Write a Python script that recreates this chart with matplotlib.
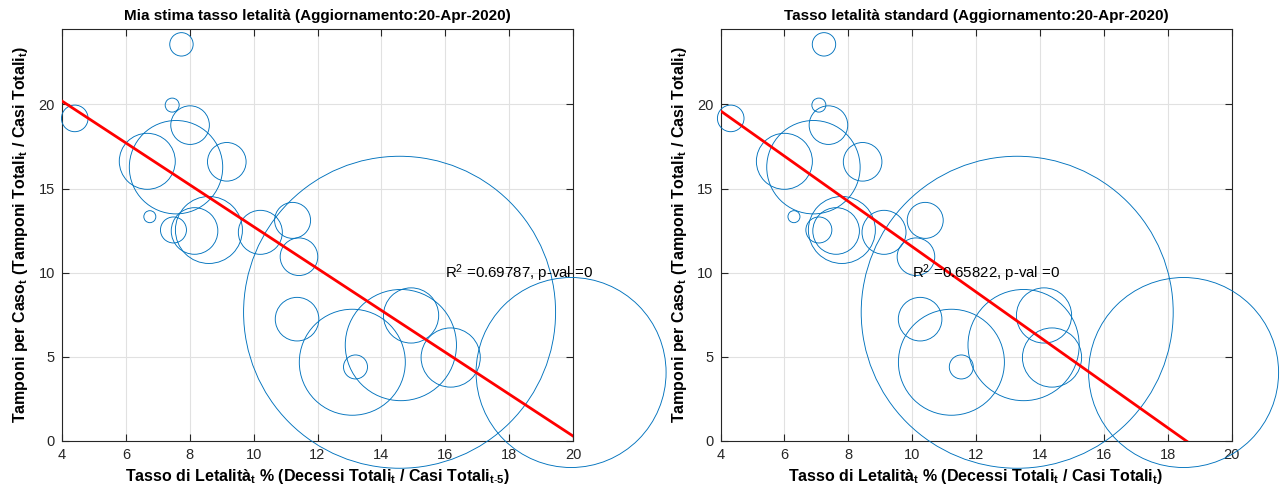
import matplotlib
matplotlib.use("Agg")
import matplotlib.pyplot as plt
import numpy as np
from matplotlib import font_manager

# ---------------- data ----------------
# y: tamponi per caso (shared by both panels)
tamponi_per_caso = [23.57, 19.17, 19.96, 18.77, 16.27, 16.62, 16.59, 13.33, 12.54, 12.48,
                    12.54, 12.40, 13.11, 10.95, 7.24, 4.68, 4.40, 5.70, 7.46, 4.96, 4.07, 7.65]
# x: my estimate of lethality (deaths_t / cases_{t-5})
letalita_mia = [7.74, 4.40, 7.45, 8.01, 7.57, 6.67, 9.16, 6.75, 7.49, 8.15,
                8.60, 10.21, 11.22, 11.42, 11.36, 13.09, 13.19, 14.61, 14.93, 16.17, 19.94, 14.57]
# x: standard lethality (deaths_t / cases_t)
letalita_std = [7.24, 4.32, 7.08, 7.38, 6.91, 6.00, 8.45, 6.30, 7.08, 7.62,
                7.80, 9.12, 10.41, 10.12, 10.25, 11.23, 11.54, 13.49, 14.13, 14.38, 18.50, 13.29]
# bubble radius (pixels, proportional to size of region)
raggio_px = [11.7, 13.3, 7.0, 19.3, 46.7, 28.0, 19.3, 6.0, 13.0, 23.3,
             33.5, 22.0, 18.0, 18.8, 21.8, 53.0, 12.0, 55.6, 27.6, 29.6, 95.0, 156.0]

# regression lines (intercept at x=4, slope)
fit_mia = {"x0": 4.0, "y0": 20.2, "slope": -1.244}
fit_std = {"x0": 4.0, "y0": 19.62, "slope": -1.345}
r2_mia, r2_std = "0.69787", "0.65822"

titoli = ["Mia stima tasso letalità (Aggiornamento:20-Apr-2020)",
          "Tasso letalità standard (Aggiornamento:20-Apr-2020)"]
xlabels = [r"Tasso di Letalità$_\mathbf{t}$ % (Decessi Totali$_\mathbf{t}$ / Casi Totali$_\mathbf{t\text{-}5}$)",
           r"Tasso di Letalità$_\mathbf{t}$ % (Decessi Totali$_\mathbf{t}$ / Casi Totali$_\mathbf{t}$)"]
ylabel = r"Tamponi per Caso$_\mathbf{t}$ (Tamponi Totali$_\mathbf{t}$ / Casi Totali$_\mathbf{t}$)"
xticks = [4, 6, 8, 10, 12, 14, 16, 18, 20]
yticks = [0, 5, 10, 15, 20]
text_pos = [(16.0, 10.0), (10.0, 10.0)]

# ---------------- style ----------------
names = {f.name for f in font_manager.fontManager.ttflist}
fam = "Liberation Sans Narrow" if "Liberation Sans Narrow" in names else "Liberation Sans"
plt.rcParams["font.family"] = [fam, "DejaVu Sans"]
plt.rcParams["mathtext.fontset"] = "custom"
plt.rcParams["mathtext.rm"] = fam
plt.rcParams["mathtext.it"] = fam
plt.rcParams["mathtext.bf"] = fam + ":bold"

DPI = 100
fig = plt.figure(figsize=(12.8, 4.92), dpi=DPI)
blue = "#0072BD"
tc = "#262626"

lefts = [62 / 1280, 720.5 / 1280]
w = 511 / 1280
b = (492 - 441) / 492
h = (441 - 28.7) / 492

sizes = [(2 * r * 72 / DPI) ** 2 for r in raggio_px]

for i, (xs, fit, r2) in enumerate([(letalita_mia, fit_mia, r2_mia), (letalita_std, fit_std, r2_std)]):
    ax = fig.add_axes([lefts[i], b, w, h])
    ax.set_xlim(4, 20)
    ax.set_ylim(0, 24.5)
    ax.set_xticks(xticks)
    ax.set_yticks(yticks)
    ax.grid(True, color="#e1e1e1", linewidth=0.8)
    ax.set_axisbelow(True)
    ax.tick_params(direction="in", top=True, right=True, length=5, width=0.8,
                   colors=tc, labelsize=10.5, pad=5)
    for s in ax.spines.values():
        s.set_color("#262626")
        s.set_linewidth(0.8)
    ax.scatter(xs, tamponi_per_caso, s=sizes, facecolors="none", edgecolors=blue,
               linewidths=0.65, clip_on=False, zorder=3)
    xl = np.array([fit["x0"], 20.0])
    ax.plot(xl, fit["y0"] + fit["slope"] * (xl - fit["x0"]), color="red", lw=2, zorder=4)
    ax.text(text_pos[i][0], text_pos[i][1], "R$^2$ =" + r2 + ", p-val =0",
            fontsize=10.8, va="center", ha="left", color="black", zorder=5)
    ax.set_title(titoli[i], fontsize=11, fontweight="bold", pad=6)
    ax.set_xlabel(xlabels[i], fontsize=11.5, fontweight="bold", labelpad=4)
    ax.set_ylabel(ylabel, fontsize=11.5, fontweight="bold", labelpad=6)

fig.savefig("out.png", dpi=DPI)
